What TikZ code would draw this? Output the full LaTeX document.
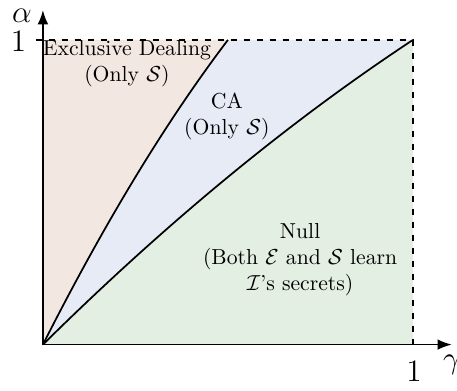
\documentclass[tikz,border=0pt]{standalone}
\usepackage{amsmath}
\usetikzlibrary{arrows.meta}

\definecolor{edcolor}{HTML}{F3E7E1}
\definecolor{cacolor}{HTML}{E7EBF6}
\definecolor{nullcolor}{HTML}{E4EFE3}

\begin{document}
\begin{tikzpicture}[
    x=6cm, y=4.94cm,
    >=Latex, % Set default arrow tip style
    boundary/.style={black, thick}, % Style for region borders
    region/.style={align=center, font=\normalsize}, % Style for region labels
    axlabel/.style={font=\Large, inner sep=0pt} % Style for axis labels and ticks
]
\useasboundingbox (-0.116, -0.151) rectangle (1.119, 1.131);

% Border curves: alpha = t(1.2-0.2t), gamma = t (lower) or t/2 (upper)
\def\bord{(\x)*(1.2-0.2*(\x))}

% Regions
\fill[edcolor] (0,0) -- plot[domain=0:1, samples=40] ({0.5*\x}, {\bord}) -- (0,1) -- cycle;
\fill[cacolor] (0,0) -- plot[domain=0:1, samples=40] ({0.5*\x}, {\bord}) -- (1,1)
    -- plot[domain=1:0, samples=40] ({\x}, {\bord}) -- cycle;
\fill[nullcolor] (0,0) -- plot[domain=0:1, samples=40] ({\x}, {\bord}) -- (1,0) -- cycle;

% Border curves
\draw[boundary] plot[domain=0:1, samples=40] ({0.5*\x}, {\bord});
\draw[boundary] plot[domain=0:1, samples=40] ({\x}, {\bord});

% Dashed box
\coordinate (o) at (0,0);
\coordinate (top) at (1,1);
\draw[thick, dashed] (-0.02,1) -- (top) -- (1,-0.02);

% Axes
\draw[->, thick] (o) -- (1.105,0) coordinate (xend);
\draw[->, thick] (o) -- (0,1.098) coordinate (yend);
\node[axlabel, anchor=west] (gam) at (1.08,-0.068) {$\gamma$};
\node[axlabel] (alp) at (-0.057,1.078) {$\alpha$};
\node[axlabel] (xone) at (1.003,-0.087) {$1$};
\node[axlabel] (yone) at (-0.066,0.995) {$1$};

% Region labels
\node[region] (ed) at (0.227,0.921) {Exclusive Dealing\\(Only $\mathcal{S}$)};
\node[region] (ca) at (0.497,0.748) {CA\\(Only $\mathcal{S}$)};
\node[region] (null) at (0.695,0.279) {Null\\(Both $\mathcal{E}$ and $\mathcal{S}$ learn\\$\mathcal{I}$'s secrets)};

\end{tikzpicture}
\end{document}
